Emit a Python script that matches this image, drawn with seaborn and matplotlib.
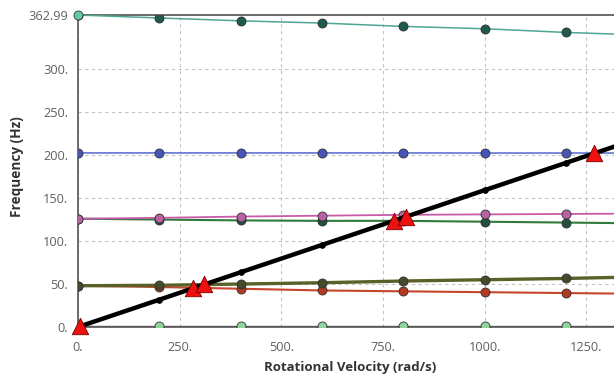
import numpy as np
import pandas as pd
import seaborn as sns
import matplotlib.pyplot as plt

# data
speed = [0, 200, 400, 600, 800, 1000, 1200, 1400]
mode_teal = [362.99, 359.5, 356.2, 353.6, 349.7, 347.0, 342.7, 339.5]
mode_blue = [202.5, 202.5, 202.5, 202.5, 202.5, 202.4, 202.4, 202.4]
mode_pink = [126.0, 127.0, 128.5, 129.5, 130.5, 131.0, 131.5, 132.0]
mode_green = [126.0, 125.0, 124.0, 123.5, 123.5, 122.5, 121.5, 120.5]
mode_olive = [48.0, 48.5, 50.0, 51.5, 53.5, 55.0, 56.5, 58.5]
mode_red = [48.0, 46.5, 44.5, 42.5, 41.5, 40.5, 39.5, 38.5]
mode_lgreen = [1.0, 1.0, 1.0, 1.0, 1.0, 1.0, 1.0, 1.0]
ratio_line = [0.0, 31.8, 63.7, 95.5, 127.3, 159.2, 191.0, 222.8]

crit_speed = [4, 284, 311, 776, 806, 1270]
crit_freq = [1.0, 45.2, 49.5, 123.5, 128.3, 202.2]

yticks = [0, 50, 100, 150, 200, 250, 300, 362.99]
ytick_labels = ['0.', '50.', '100.', '150.', '200.', '250.', '300.', '362.99']
xticks = [0, 250, 500, 750, 1000, 1250]
xtick_labels = ['0.', '250.', '500.', '750.', '1000.', '1250.']

sns.set_style('white')
plt.rcParams['font.family'] = ['Open Sans', 'DejaVu Sans']

fig = plt.figure(figsize=(6.14, 3.83), dpi=100)
ax = fig.add_axes([78 / 614, (383 - 327) / 383, 1 - 78 / 614, (327 - 15) / 383])

df = pd.DataFrame({'speed': speed, 'teal': mode_teal, 'blue': mode_blue,
                   'pink': mode_pink, 'green': mode_green, 'olive': mode_olive,
                   'red': mode_red, 'lgreen': mode_lgreen, 'ratio': ratio_line})

styles = [
    ('lgreen', '#5a5a5a', 1.0, '#90d39c'),
    ('red', '#c8442c', 1.5, '#b33a22'),
    ('olive', '#5a6128', 2.4, '#464a2c'),
    ('green', '#2f7a3c', 1.5, '#23503a'),
    ('pink', '#c85aa8', 1.3, '#b861a3'),
    ('blue', '#4358c8', 1.0, '#4656b8'),
    ('teal', '#4ea592', 1.1, '#215a4c'),
]
for col, lc, lw, mc in styles:
    sns.lineplot(data=df, x='speed', y=col, ax=ax, color=lc, lw=lw,
                 marker='o', markersize=6.5, markerfacecolor=mc,
                 markeredgecolor='#303030', markeredgewidth=0.6, zorder=3)

# first teal marker is lighter
sns.scatterplot(x=speed[:1], y=mode_teal[:1], ax=ax, color='#62c9aa', s=42,
                edgecolor='#303030', linewidth=0.6, zorder=4, clip_on=False)

sns.lineplot(data=df, x='speed', y='ratio', ax=ax, color='black', lw=3.2,
             marker='o', markersize=4, markeredgecolor='black', zorder=5)

sns.scatterplot(x=crit_speed, y=crit_freq, ax=ax, marker='^', s=140,
                color='#ee1111', edgecolor='#7a0000', linewidth=0.6,
                zorder=6, clip_on=False)

ax.set_xlim(0, 1318)
ax.set_ylim(0, 362.99)
ax.set_xticks(xticks)
ax.set_xticklabels(xtick_labels)
ax.set_yticks(yticks)
ax.set_yticklabels(ytick_labels)
ax.tick_params(axis='both', labelsize=9.2, colors='#606060', length=4,
               width=0.8, pad=3)
ax.tick_params(axis='x', pad=6)
ax.grid(True, color='#c4c4c4', ls=(0, (3, 3)), lw=0.8)
ax.set_axisbelow(True)

for side in ['left', 'top', 'bottom']:
    ax.spines[side].set_color('#555555')
    ax.spines[side].set_linewidth(1.2)
ax.spines['right'].set_visible(False)

ax.set_xlabel('Rotational Velocity (rad/s)', fontsize=9.5, fontweight='bold',
              color='#333333')
ax.set_ylabel('Frequency (Hz)', fontsize=9.8, fontweight='bold',
              color='#333333')
ax.xaxis.set_label_coords((350 - 78) / 536, -0.11)
ax.yaxis.set_label_coords(-0.1, 0.513)

fig.savefig('out.png', dpi=100)
